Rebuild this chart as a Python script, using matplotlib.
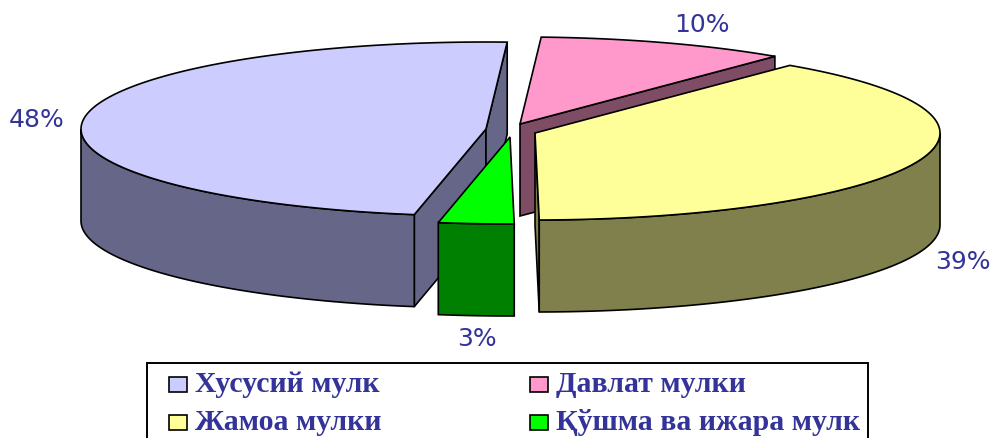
import numpy as np
import matplotlib
matplotlib.use("Agg")
import matplotlib.pyplot as plt
from matplotlib.patches import Polygon, Rectangle

# order: clockwise from the top of the pie
names = ["Давлат мулки", "Жамоа мулки", "Қўшма ва ижара мулк", "Хусусий мулк"]
values = [10, 39, 3, 48]
top_colors = ["#FF99CC", "#FFFF99", "#00FF00", "#CCCCFF"]
side_colors = ["#7F4C66", "#80804C", "#008000", "#666688"]
centers = [(520, 125), (535, 134), (510, 138), (486, 130)]
label_pos = [(702, 25), (963, 262), (477, 339), (37, 120)]
# which cut faces of each wedge turn to the viewer (first edge, last edge)
cut_faces = [(False, True), (False, True), (False, False), (True, True)]

TEXT = "#333399"
RX, RY, DEPTH = 405, 87, 92
START = 3.0

fig = plt.figure(figsize=(9.92, 4.39), dpi=100)
ax = fig.add_axes([0, 0, 1, 1])
ax.set_xlim(0, 992)
ax.set_ylim(439, 0)
ax.axis("off")


def rim(c, t):
    t = np.radians(t)
    return c[0] + RX * np.sin(t), c[1] - RY * np.cos(t)


def draw_slice(c, a0, a1, top, side, faces):
    # walls first, the top goes over them
    for show, a in zip(faces, (a0, a1)):
        if show:
            x, y = rim(c, a)
            ax.add_patch(Polygon([c, (x, y), (x, y + DEPTH), (c[0], c[1] + DEPTH)],
                                 fc=side, ec="black", lw=1.2))

    # front part of the round wall
    lo, hi = max(a0, 90), min(a1, 270)
    if hi > lo:
        xs, ys = rim(c, np.linspace(lo, hi, 80))
        pts = list(zip(xs, ys)) + list(zip(xs[::-1], ys[::-1] + DEPTH))
        ax.add_patch(Polygon(pts, fc=side, ec="black", lw=1.2))

    xs, ys = rim(c, np.linspace(a0, a1, 120))
    ax.add_patch(Polygon([c] + list(zip(xs, ys)), fc=top, ec="black", lw=1.2))


edges = START + np.cumsum([0] + values) * 3.6
for i in [3, 0, 1, 2]:
    draw_slice(centers[i], edges[i], edges[i + 1], top_colors[i], side_colors[i], cut_faces[i])

for v, p in zip(values, label_pos):
    ax.text(p[0], p[1], f"{v}%", color=TEXT, fontsize=18, family="DejaVu Sans",
            ha="center", va="center")

# legend box runs off the bottom of the picture
ax.add_patch(Rectangle((147, 364), 721, 90, fc="white", ec="black", lw=1.4))
legend_order = [3, 0, 1, 2]
legend_xy = [(169, 378), (530, 378), (169, 416), (530, 416)]
for i, (x, y) in zip(legend_order, legend_xy):
    ax.add_patch(Rectangle((x, y), 18, 15, fc=top_colors[i], ec="black", lw=1.2))
    ax.text(x + 26, y + 7, names[i], color=TEXT, fontsize=21.5, weight="bold",
            family="Liberation Serif", ha="left", va="center")

fig.savefig("out.png", dpi=100)
